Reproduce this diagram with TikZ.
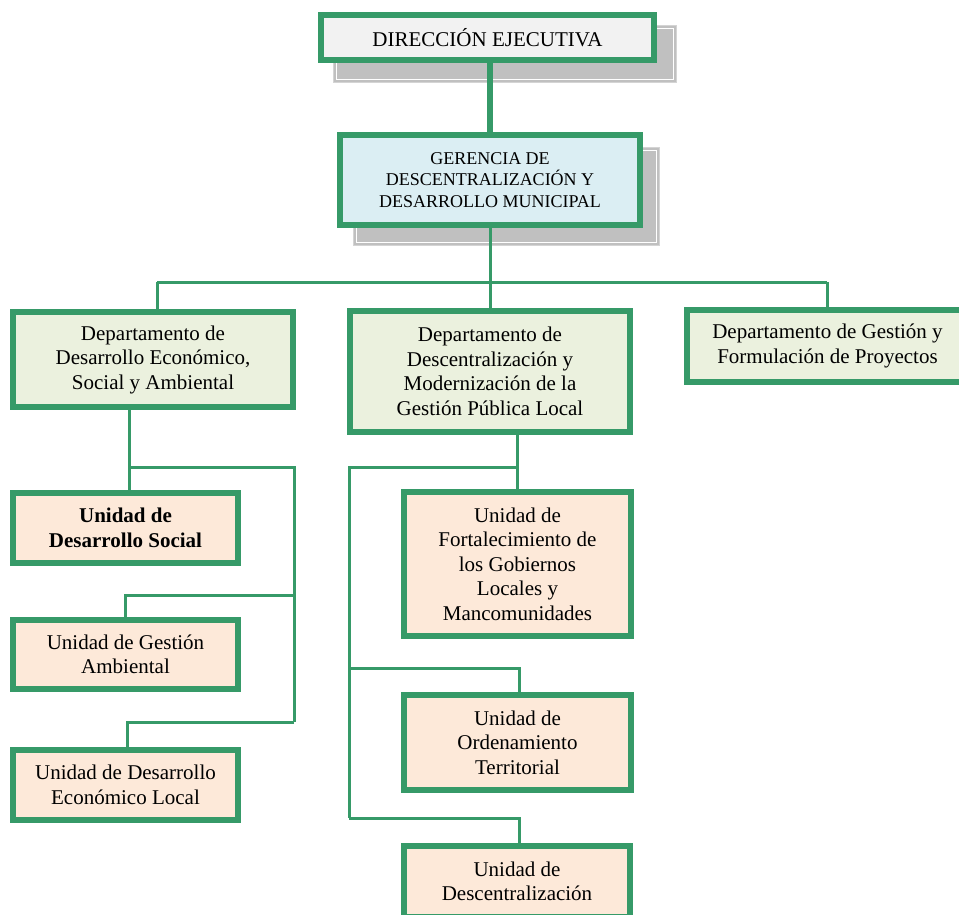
\documentclass[tikz,border=0pt]{standalone}
\usepackage{fontspec}
\setmainfont{Liberation Serif}
\definecolor{grn}{RGB}{54,154,104}
\definecolor{fillDE}{RGB}{242,242,242}
\definecolor{fillGer}{RGB}{219,238,243}
\definecolor{fillDep}{RGB}{235,241,222}
\definecolor{fillUni}{RGB}{253,233,217}
\definecolor{shad}{RGB}{192,192,192}
\definecolor{shadEdge}{RGB}{212,212,212}
\pgfdeclarelayer{shadows}
\pgfdeclarelayer{links}
\pgfsetlayers{shadows,links,main}
\tikzset{
  box/.style={draw=grn, line width=6pt, align=center, inner sep=0pt,
    font=\fontsize{21}{24.5}\selectfont},
  debox/.style={box, fill=fillDE},
  gerbox/.style={box, fill=fillGer, font=\fontsize{18}{21.7}\selectfont},
  depbox/.style={box, fill=fillDep},
  unibox/.style={box, fill=fillUni},
  conn/.style={draw=grn, line width=3pt, line join=miter},
  thickconn/.style={draw=grn, line width=6pt},
  shadowbox/.style={fill=shad, draw=shadEdge, line width=1pt},
  shadowline/.style={draw=white, line width=1pt}
}
\begin{document}
\begin{tikzpicture}[x=1pt,y=-1pt]
\useasboundingbox (0,0) rectangle (959,914);
\clip (0,0) rectangle (959,914);

% boxes
\node[debox, minimum width=333pt, minimum height=45pt] (DE) at (487.5,37.5) {DIRECCIÓN EJECUTIVA};
\node[gerbox, minimum width=300pt, minimum height=90pt] (GER) at (490,180) {GERENCIA DE\\DESCENTRALIZACIÓN Y\\DESARROLLO MUNICIPAL};
\node[depbox, minimum width=280pt, minimum height=95pt] (D1) at (153,359.5) {Departamento de\\Desarrollo Económico,\\Social y Ambiental};
\node[depbox, minimum width=280pt, minimum height=121pt] (D2) at (490,371.5) {Departamento de\\Descentralización y\\Modernización de la\\Gestión Pública Local};
\node[depbox, minimum width=281pt, minimum height=72pt] (D3) at (827.5,346) {Departamento de Gestión y\\Formulación de Proyectos};
\node[unibox, minimum width=225pt, minimum height=70pt] (U1) at (125.5,528) {\bfseries Unidad de\\\bfseries Desarrollo Social};
\node[unibox, minimum width=225pt, minimum height=69pt] (U2) at (125.5,654.5) {Unidad de Gestión\\Ambiental};
\node[unibox, minimum width=225pt, minimum height=70pt] (U3) at (125.5,785) {Unidad de Desarrollo\\Económico Local};
\node[unibox, minimum width=227pt, minimum height=144pt] (U4) at (517.5,564) {Unidad de\\Fortalecimiento de\\los Gobiernos\\Locales y\\Mancomunidades};
\node[unibox, minimum width=227pt, minimum height=95pt] (U5) at (517.5,742.5) {Unidad de\\Ordenamiento\\Territorial};
\node[unibox, minimum width=226pt, minimum height=71pt] (U6) at (517,881.5) {Unidad de\\Descentralización};

% shadows
\begin{pgfonlayer}{shadows}
\fill[white] (0,0) rectangle (959,914);
\draw[shadowbox] (333,25) rectangle (676,82);
\draw[shadowline] (336,28) rectangle (673,79);
\draw[shadowbox] (353,147) rectangle (659,245);
\draw[shadowline] (356,150) rectangle (656,242);
\end{pgfonlayer}

% coordinates for connectors
\coordinate (busL) at (157,282);
\coordinate (busR) at (827,282);
\coordinate (a1) at (129,467);
\coordinate (a2) at (294,467);
\coordinate (a3) at (294,722);
\coordinate (a4) at (125,595);
\coordinate (a5) at (294,595);
\coordinate (a6) at (127,722);
\coordinate (b1) at (517,467);
\coordinate (b2) at (349,467);
\coordinate (b3) at (349,818);
\coordinate (b4) at (349,668);
\coordinate (b5) at (519,668);
\coordinate (b6) at (519,818);

% connectors
\begin{pgfonlayer}{links}
\draw[thickconn] (DE.south -| GER.north) -- (GER.north);
\draw[conn] (GER.south) -- (D2.north);
\draw[conn] (busL) -- (busR);
\draw[conn] (busL) -- (busL |- D1.north);
\draw[conn] (busR) -- (busR |- D3.north);
\draw[conn] (a1 |- D1.south) -- (a1) -- (a2) -- (a3);
\draw[conn] (a1) -- (a1 |- U1.north);
\draw[conn] (a5) -- (a4) -- (a4 |- U2.north);
\draw[conn] (a3) -- (a6) -- (a6 |- U3.north);
\draw[conn] (b1 |- D2.south) -- (b1) -- (b2) -- (b3);
\draw[conn] (b1) -- (b1 |- U4.north);
\draw[conn] (b4) -- (b5) -- (b5 |- U5.north);
\draw[conn] (b3) -- (b6) -- (b6 |- U6.north);
\end{pgfonlayer}
\end{tikzpicture}
\end{document}
